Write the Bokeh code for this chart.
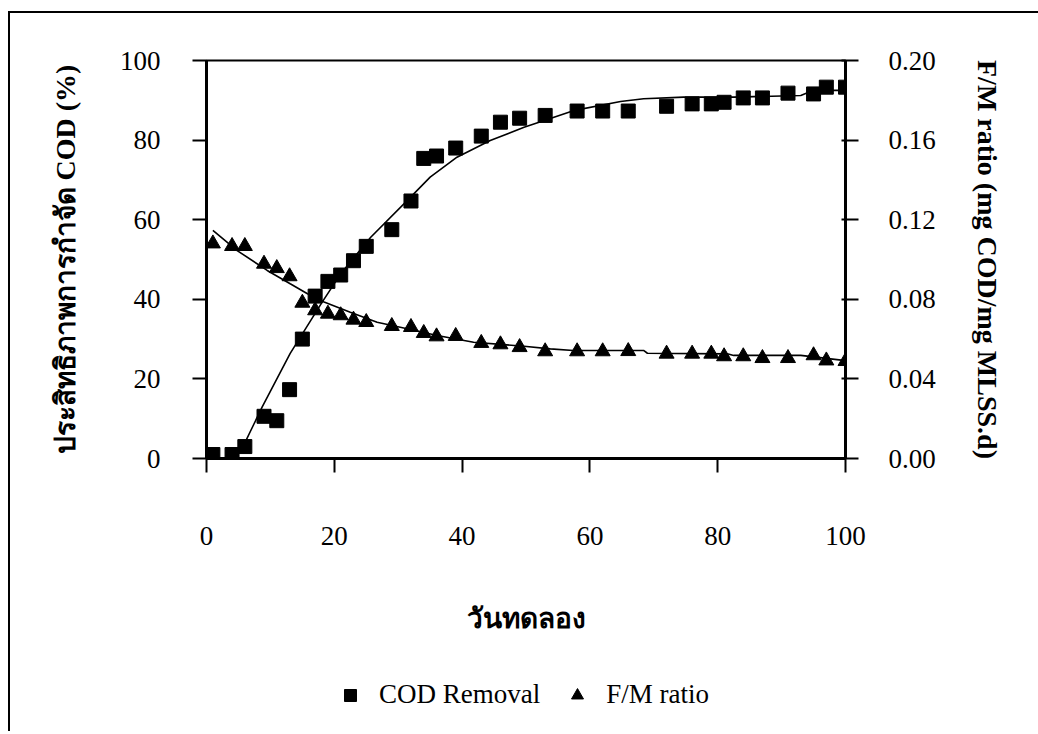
from bokeh.plotting import figure
from bokeh.layouts import column
from bokeh.models import (Range1d, LinearAxis, FixedTicker, PrintfTickFormatter,
                          Legend, LegendItem, ColumnDataSource)
from bokeh.embed import file_html
from bokeh.resources import INLINE

# ---- data ----
days = [1, 4, 6, 9, 11, 13, 15, 17, 19, 21, 23, 25, 29, 32, 34, 36, 39, 43, 46, 49,
        53, 58, 62, 66, 72, 76, 79, 81, 84, 87, 91, 95, 97, 100]
cod_removal = [1.0, 1.0, 3.0, 10.6, 9.5, 17.3, 30.0, 40.8, 44.5, 46.1, 49.7, 53.3, 57.5,
               64.7, 75.4, 76.0, 78.0, 81.0, 84.5, 85.5, 86.2, 87.3, 87.3, 87.3, 88.5,
               89.1, 89.1, 89.5, 90.6, 90.6, 91.8, 91.6, 93.3, 93.3]
fm_ratio = [0.108, 0.1067, 0.1067, 0.0978, 0.0956, 0.0915, 0.0782, 0.0744, 0.0727,
            0.0719, 0.0697, 0.0685, 0.0665, 0.066, 0.063, 0.0613, 0.0615, 0.058,
            0.0573, 0.0559, 0.0538, 0.0538, 0.0538, 0.0539, 0.0526, 0.0526, 0.0526,
            0.0513, 0.0513, 0.0504, 0.0504, 0.0518, 0.0492, 0.0489]

cod_trend_days = [5.3, 8.7, 13.1, 18.1, 21.0, 25.7, 31.4, 35.0, 39.2, 44.4, 49.7, 53.8,
                  57.4, 64.8, 68.4, 74.7, 82.5, 93.0, 95.0, 100.0]
cod_trend = [1.6, 12.9, 26.4, 39.3, 46.4, 55.6, 64.8, 70.7, 75.7, 79.9, 83.2, 85.4,
             87.4, 89.7, 90.4, 90.8, 90.8, 91.2, 92.5, 92.5]

fm_trend_days = [1.0, 4.8, 9.5, 13.1, 15.8, 18.4, 22.5, 26.7, 31.4, 36.1, 41.8, 49.7,
                 53.8, 57.4, 68.4, 69.0, 81.5, 82.5, 93.0, 100.0]
fm_trend = [0.1146, 0.1045, 0.0945, 0.0878, 0.0828, 0.0786, 0.0735, 0.0685, 0.0652,
            0.0618, 0.0584, 0.0564, 0.0551, 0.0543, 0.0543, 0.0529, 0.0526, 0.0518,
            0.0518, 0.0492]

x_ticks = [0, 20, 40, 60, 80, 100]
left_ticks = [0, 20, 40, 60, 80, 100]
right_ticks = [0.0, 0.04, 0.08, 0.12, 0.16, 0.20]

x_label = "วันทดลอง"
left_label = "ประสิทธิภาพการกำจัด COD (%)"
right_label = "F/M ratio (mg COD/mg MLSS.d)"
legend_labels = ["COD Removal", "F/M ratio"]

SERIF = "Liberation Serif"

p = figure(width=1028, height=652, output_backend="svg", toolbar_location=None,
           x_range=Range1d(0, 100), y_range=Range1d(0, 100),
           min_border_left=196, min_border_top=47, min_border_right=193,
           min_border_bottom=207)
p.xgrid.visible = False
p.ygrid.visible = False
p.outline_line_color = "black"
p.outline_line_width = 2
p.background_fill_color = "white"
p.border_fill_color = "white"

p.extra_y_ranges = {"fm": Range1d(0, 0.20)}

def style_axis(ax):
    ax.axis_line_width = 3
    ax.axis_line_color = "black"
    ax.major_tick_line_width = 2
    ax.major_tick_out = 14
    ax.major_tick_in = 0
    ax.minor_tick_line_color = None
    ax.major_label_text_font = SERIF
    ax.major_label_text_font_size = "27px"
    ax.major_label_text_color = "black"
    ax.axis_label_text_font = SERIF
    ax.axis_label_text_font_style = "bold"
    ax.axis_label_text_font_size = "28px"
    ax.axis_label_text_color = "black"

xa = p.xaxis[0]
style_axis(xa)
xa.ticker = FixedTicker(ticks=x_ticks)
xa.major_label_standoff = 54
xa.axis_label = x_label
xa.axis_label_standoff = 55

ya = p.yaxis[0]
style_axis(ya)
ya.ticker = FixedTicker(ticks=left_ticks)
ya.major_label_standoff = 32
ya.axis_label = left_label
ya.axis_label_standoff = 36

ra = LinearAxis(y_range_name="fm")
style_axis(ra)
ra.ticker = FixedTicker(ticks=right_ticks)
ra.formatter = PrintfTickFormatter(format="%.2f")
ra.major_tick_in = 4
ra.major_tick_out = 13
ra.major_label_standoff = 30
ra.axis_label = right_label
ra.axis_label_standoff = 33
p.add_layout(ra, "right")

src = ColumnDataSource(dict(day=days, cod=cod_removal, fm=fm_ratio))

p.line(cod_trend_days, cod_trend, line_color="black", line_width=1.6)
p.line(fm_trend_days, fm_trend, line_color="black", line_width=1.6, y_range_name="fm")

p.scatter("day", "cod", source=src, marker="square", size=14,
          fill_color="black", line_color="black")
p.scatter("day", "fm", source=src, marker="triangle", size=15,
          fill_color="black", line_color="black", y_range_name="fm")

# legend strip below the chart (its frame is aligned with the chart frame)
p2 = figure(width=1028, height=66, output_backend="svg", toolbar_location=None,
            x_range=Range1d(0, 1), y_range=Range1d(0, 1),
            min_border=0, x_axis_type=None, y_axis_type=None)
p2.xgrid.visible = False
p2.ygrid.visible = False
p2.outline_line_color = None
p2.border_fill_color = "white"
nan = float("nan")
legend_src = ColumnDataSource(dict(x=[nan], y=[nan]))
l_cod = p2.scatter("x", "y", source=legend_src, marker="square", size=14,
                   fill_color="black", line_color="black")
l_fm = p2.scatter("x", "y", source=legend_src, marker="triangle", size=15,
                  fill_color="black", line_color="black")

legend = Legend(items=[LegendItem(label=legend_labels[0], renderers=[l_cod]),
                       LegendItem(label=legend_labels[1], renderers=[l_fm])],
                orientation="horizontal", location=(129, 21))
legend.label_text_font = SERIF
legend.label_text_font_size = "27px"
legend.label_text_color = "black"
legend.border_line_color = None
legend.background_fill_alpha = 0
legend.glyph_width = 30
legend.glyph_height = 30
legend.spacing = 22
legend.label_standoff = 14
legend.padding = 4
legend.margin = 0
p2.add_layout(legend, "center")

layout = column(p, p2, spacing=0,
                styles={"border-top": "2px solid black", "border-left": "2px solid black",
                        "margin-left": "8px", "margin-top": "11px"})

open("out.html", "w").write(file_html(layout, INLINE))
